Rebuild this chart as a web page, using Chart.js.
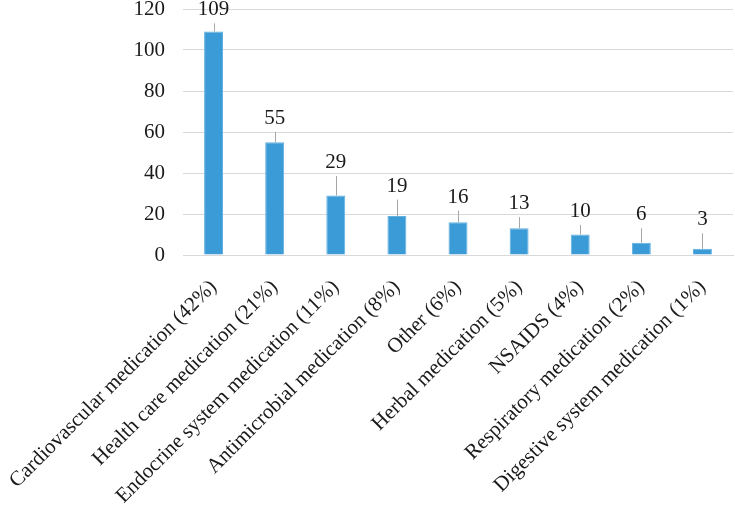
<!DOCTYPE html>
<html>
<head>
<meta charset="utf-8">
<script src="https://cdn.jsdelivr.net/npm/chart.js@4"></script>
<style>
  html, body { margin: 0; padding: 0; background: #fff; }
  #wrap { width: 735px; height: 510px; }
</style>
</head>
<body>
<div id="wrap"><canvas id="myChart"></canvas></div>
<script>
const categories = [
  'Cardiovascular medication (42%)',
  'Health care medication (21%)',
  'Endocrine system medication (11%)',
  'Antimicrobial medication (8%)',
  'Other (6%)',
  'Herbal medication (5%)',
  'NSAIDS (4%)',
  'Respiratory medication (2%)',
  'Digestive system medication (1%)'
];
const counts = [109, 55, 29, 19, 16, 13, 10, 6, 3];
const errors = [4, 5, 9.5, 8, 5.7, 5.5, 4.7, 7, 7.6];
const yTicks = [0, 20, 40, 60, 80, 100, 120];

const serif = "'Liberation Serif', 'Times New Roman', serif";

// thin grey line above each bar, then the value above it
const errorAndLabels = {
  id: 'errorAndLabels',
  afterDatasetsDraw(chart) {
    const c = chart.ctx;
    const meta = chart.getDatasetMeta(0);
    const y = chart.scales.y;
    c.save();
    meta.data.forEach((bar, i) => {
      const top = y.getPixelForValue(counts[i] + errors[i]);
      c.strokeStyle = '#a6a6a6';
      c.lineWidth = 1;
      c.beginPath();
      c.moveTo(Math.round(bar.x) + 0.5, bar.y);
      c.lineTo(Math.round(bar.x) + 0.5, top);
      c.stroke();
      c.fillStyle = '#1a1a1a';
      c.font = '21px ' + serif;
      c.textAlign = 'center';
      c.textBaseline = 'bottom';
      c.fillText(String(counts[i]), bar.x, top - 3);
    });
    c.restore();
  }
};

const ctx = document.getElementById('myChart');
const myChart = new Chart(ctx, {
  type: 'bar',
  data: {
    labels: categories,
    datasets: [{
      data: counts,
      backgroundColor: '#3a9bd7',
      borderColor: '#62b0e0',
      borderWidth: 1,
      barPercentage: 0.62,
      categoryPercentage: 0.5
    }]
  },
  options: {
    responsive: true,
    maintainAspectRatio: false,
    animation: false,
    layout: { padding: { top: 9, right: 2, left: 0, bottom: 0 } },
    plugins: {
      legend: { display: false },
      tooltip: { enabled: false }
    },
    scales: {
      x: {
        grid: { display: false },
        border: { display: true, color: '#d9d9d9' },
        afterFit(axis) {
          axis.height = 255;
          axis.paddingLeft = 0;
          axis.paddingRight = 0;
        },
        ticks: {
          color: '#1a1a1a',
          font: { family: serif, size: 21 },
          minRotation: 45,
          maxRotation: 45,
          padding: 12
        }
      },
      y: {
        min: 0,
        max: 120,
        afterBuildTicks(axis) {
          axis.ticks = yTicks.map(v => ({ value: v }));
        },
        afterFit(axis) {
          axis.width = 183;
          axis.paddingTop = 0;
          axis.paddingBottom = 0;
        },
        grid: { color: '#d9d9d9', drawTicks: false },
        border: { display: false },
        ticks: {
          color: '#1a1a1a',
          font: { family: serif, size: 21 },
          padding: 18
        }
      }
    }
  },
  plugins: [errorAndLabels]
});
</script>
</body>
</html>
